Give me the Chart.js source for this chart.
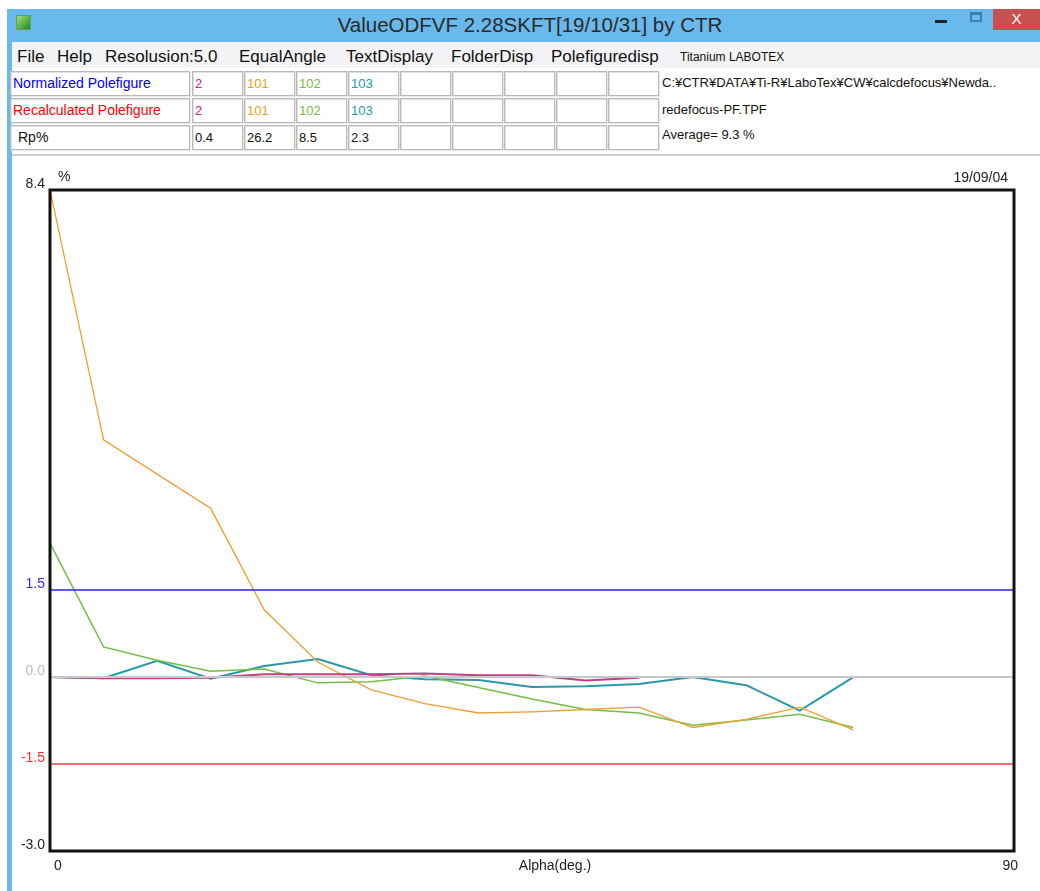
<!DOCTYPE html>
<html>
<head>
<meta charset="utf-8">
<script src="https://cdn.jsdelivr.net/npm/chart.js@4/dist/chart.umd.min.js"></script>
<style>
  html,body{margin:0;padding:0;background:#fff;width:1040px;height:891px;overflow:hidden;font-family:"Liberation Sans",Arial,sans-serif;}
  .abs{position:absolute;}
  #titlebar{left:7px;top:9px;width:1033px;height:33px;background:#69B9EC;}
  #title{left:7px;top:9px;width:1046px;height:33px;line-height:31px;text-align:center;font-size:20.5px;color:#2a2a2a;}
  #leftstrip{left:7px;top:42px;width:5px;height:849px;background:#69B9EC;}
  #menubar{left:12px;top:42px;width:1028px;height:26px;background:#F3F3F5;}
  .menu{top:46px;font-size:17px;color:#111;line-height:22px;}
  #tablearea{left:12px;top:68px;width:1028px;height:88px;background:#fff;}
  .cell{position:absolute;box-sizing:border-box;height:25px;border:1px solid #B8B8B8;box-shadow:inset 1px 1px 0 #E2E2E2, 1px 1px 0 #E8E8E8;background:#fff;font-size:13px;line-height:23px;padding-left:2px;white-space:nowrap;overflow:hidden;}
  .rtext{position:absolute;left:662px;font-size:13px;color:#111;white-space:nowrap;}
  #sep{left:12px;top:154px;width:1028px;height:2px;background:#CFCFCF;}
  #chartwrap{left:12px;top:158px;width:1028px;height:733px;}
</style>
</head>
<body>
<div id="titlebar" class="abs"></div>
<div class="abs" style="left:16px;top:15px;width:15px;height:15px;background:linear-gradient(135deg,#9be07a,#1e8a1e);border:1px solid #6a9a6a;box-sizing:border-box;"></div>
<div id="title" class="abs">ValueODFVF 2.28SKFT[19/10/31] by CTR</div>
<div class="abs" style="left:935px;top:20px;width:12px;height:3px;background:#222;"></div>
<div class="abs" style="left:970px;top:12px;width:12px;height:10px;border:2px solid #3c7db0;border-top-width:3px;box-sizing:border-box;"></div>
<div class="abs" style="left:993px;top:9px;width:47px;height:21px;background:#C75050;color:#fff;font-size:15px;text-align:center;line-height:20px;">X</div>
<div id="leftstrip" class="abs"></div>
<div id="menubar" class="abs"></div>
<div class="abs menu" style="left:17px;">File</div>
<div class="abs menu" style="left:57px;">Help</div>
<div class="abs menu" style="left:105px;">Resolusion:5.0</div>
<div class="abs menu" style="left:239px;">EqualAngle</div>
<div class="abs menu" style="left:346px;">TextDisplay</div>
<div class="abs menu" style="left:451px;">FolderDisp</div>
<div class="abs menu" style="left:551px;">Polefiguredisp</div>
<div class="abs menu" style="left:680px;top:49px;font-size:12px;line-height:16px;">Titanium LABOTEX</div>
<div id="tablearea" class="abs"></div>
<div id="tbl"></div>
<div class="rtext" style="top:75px;">C:¥CTR¥DATA¥Ti-R¥LaboTex¥CW¥calcdefocus¥Newda..</div>
<div class="rtext" style="top:102px;">redefocus-PF.TPF</div>
<div class="rtext" style="top:127px;">Average= 9.3 %</div>
<div id="sep" class="abs"></div>
<div id="chartwrap" class="abs"><canvas id="c" width="1028" height="733"></canvas></div>
<script>
// ---- data ----
const alpha = [0,5,10,15,20,25,30,35,40,45,50,55,60,65,70,75];
const pf2   = [0.00,-0.02,-0.02,-0.01,0.05,0.05,0.05,0.06,0.03,0.03,-0.06,-0.01];
const pf101 = [8.40,4.09,3.50,2.91,1.16,0.26,-0.22,-0.46,-0.62,-0.60,-0.56,-0.52,-0.87,-0.73,-0.52,-0.91];
const pf102 = [2.31,0.52,0.29,0.10,0.14,-0.10,-0.08,0.02,-0.18,-0.38,-0.56,-0.62,-0.83,-0.74,-0.64,-0.87];
const pf103 = [0.00,-0.02,0.28,-0.03,0.19,0.31,0.03,-0.04,-0.05,-0.17,-0.16,-0.12,0.00,-0.14,-0.58,0.00];
const refLevels = [1.5, 0.0, -1.5];
const xRange = [0, 90];
const yTicks = [-3.0, -1.5, 0.0, 1.5, 8.4];
const xTicks = [0, 90];
const rowLabels = ["Normalized Polefigure","Recalculated Polefigure","Rp%"];
const poleNames = ["2","101","102","103"];
const rpValues = ["0.4","26.2","8.5","2.3"];

// ---- table ----
const poleColors = ["#C0287A","#E8A028","#78B848","#2A98A8"];
const rowColors = ["#0000FF","#FF0000","#111"];
const tbl = document.getElementById('tbl');
const rowTops = [71,98,125];
rowTops.forEach((t,r)=>{
  const c0 = document.createElement('div');
  c0.className='cell'; c0.style.left='10px'; c0.style.top=t+'px'; c0.style.width='180px';
  c0.style.color=rowColors[r]; c0.style.fontSize='14px';
  if(r===2) c0.style.paddingLeft='7px';
  c0.textContent=rowLabels[r];
  tbl.appendChild(c0);
  for(let k=0;k<9;k++){
    const c = document.createElement('div');
    c.className='cell'; c.style.left=(192+52*k)+'px'; c.style.top=t+'px'; c.style.width='51px';
    if(k<4){
      if(r<2){ c.textContent=poleNames[k]; c.style.color=poleColors[k]; }
      else { c.textContent=rpValues[k]; c.style.color='#111'; }
    }
    tbl.appendChild(c);
  }
});

// ---- chart ----
const line = (vals,color,w)=>({data:vals.map((v,i)=>({x:alpha[i],y:v})),borderColor:color,borderWidth:w,pointRadius:0,fill:false,tension:0});
const refColors = ["#2424F0","#C8C8C8","#F04040"];
const refDs = refLevels.map((lv,i)=>({data:xRange.map(x=>({x:x,y:lv})),borderColor:refColors[i],borderWidth:i===1?2:1.5,pointRadius:0,fill:false}));
const tickColors = {"-3":"#222","-1.5":"#F03030","0":"#BDBDBD","1.5":"#3030F0","8.4":"#222"};

const framePlugin = {
  id:'frame',
  afterDatasetsDraw(chart){
    const {ctx, chartArea:a} = chart;
    ctx.save();
    ctx.strokeStyle='#111'; ctx.lineWidth=3;
    ctx.strokeRect(a.left, a.top, a.right-a.left, a.bottom-a.top);
    ctx.fillStyle='#222'; ctx.font='14px "Liberation Sans", Arial, sans-serif';
    ctx.textBaseline='middle';
    ctx.textAlign='left'; ctx.fillText('%', a.left+8, a.top-13);
    ctx.textAlign='right'; ctx.fillText('19/09/04', a.right-6, a.top-12);
    ctx.textAlign='center'; ctx.fillText('Alpha(deg.)', (a.left+a.right)/2+23, a.bottom+15);
    ctx.restore();
  }
};

new Chart(document.getElementById('c'), {
  type:'line',
  data:{datasets:[
    ...refDs,
    line(pf2,"#C04080",2),
    line(pf101,"#EDA030",1.3),
    line(pf102,"#74BE48",1.5),
    line(pf103,"#2A98A8",2)
  ]},
  options:{
    responsive:false, animation:false, devicePixelRatio:1,
    layout:{padding:{left:0,top:32,right:26,bottom:0}},
    plugins:{legend:{display:false},tooltip:{enabled:false}},
    scales:{
      x:{type:'linear',min:0,max:90,
        grid:{display:false,drawTicks:false}, border:{display:false},
        afterBuildTicks:s=>{s.ticks=xTicks.map(v=>({value:v}));},
        afterFit:s=>{s.height=40;},
        ticks:{align:'inner',labelOffset:4,padding:7,color:'#222',font:{family:'"Liberation Sans", Arial, sans-serif',size:14},maxRotation:0,callback:v=>String(v)}
      },
      y:{min:-3,max:8.4,
        grid:{display:false,drawTicks:false}, border:{display:false},
        afterBuildTicks:s=>{s.ticks=yTicks.map(v=>({value:v}));},
        afterFit:s=>{s.width=38;},
        ticks:{padding:5,labelOffset:-6,font:{family:'"Liberation Sans", Arial, sans-serif',size:14},
          color:ctx=>tickColors[String(ctx.tick.value)]||'#222',
          callback:v=>Number(v).toFixed(1)}
      }
    }
  },
  plugins:[framePlugin]
});
</script>
</body>
</html>
